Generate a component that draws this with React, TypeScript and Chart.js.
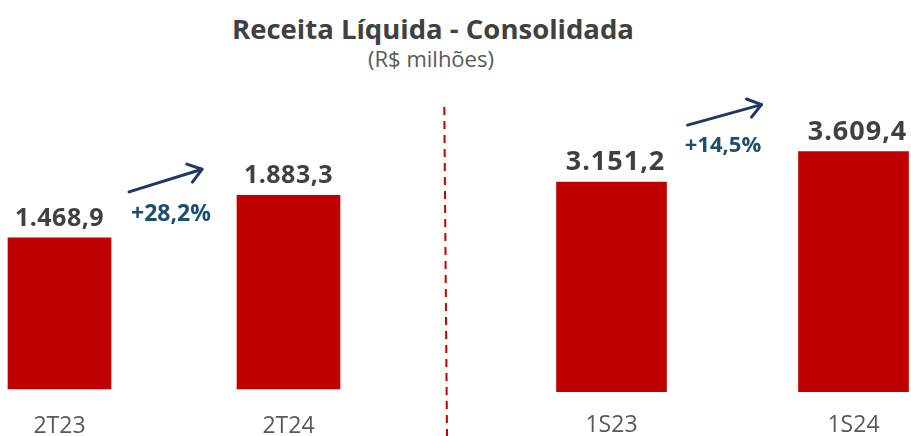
import React, { useEffect, useRef } from 'react';
import { Chart, registerables } from 'chart.js';

Chart.register(...registerables);

const TITLE = 'Receita Líquida - Consolidada';
const SUBTITLE = '(R$ milhões)';
const quarterLabels = ['2T23', '2T24'];
const quarterValues = [1468.9, 1883.3];
const semesterLabels = ['1S23', '1S24'];
const semesterValues = [3151.2, 3609.4];

const FONT = '"Open Sans", "Noto Sans", sans-serif';
const PANEL_H = 464;

const fmt = (v: number, d = 1) => {
  const [i, f] = v.toFixed(d).split('.');
  return i.replace(/\B(?=(\d{3})+(?!\d))/g, '.') + (f ? ',' + f : '');
};

const annotatePlugin = {
  id: 'annot',
  afterDatasetsDraw(chart: any, _args: any, opts: any) {
    const ctx = chart.ctx as CanvasRenderingContext2D;
    const meta = chart.getDatasetMeta(0);
    const values = chart.data.datasets[0].data as number[];
    const bars = meta.data.map((b: any) => b.getProps(['x', 'y', 'width', 'base'], true));
    ctx.save();
    // value labels
    ctx.font = `bold ${opts.valueSize}px ${FONT}`;
    (ctx as any).letterSpacing = opts.letterSpacing || '0px';
    ctx.fillStyle = '#404040';
    ctx.textAlign = 'center';
    ctx.textBaseline = 'alphabetic';
    bars.forEach((b: any, i: number) => ctx.fillText(fmt(values[i]), b.x + opts.valueDx, b.y - opts.valueGap));
    (ctx as any).letterSpacing = '0px';

    // growth annotation
    const b0 = bars[0];
    const b1 = bars[1];
    const r0 = b0.x + b0.width / 2;
    const l1 = b1.x - b1.width / 2;
    const growth = (values[1] / values[0] - 1) * 100;
    ctx.font = `bold ${opts.pctSize}px ${FONT}`;
    ctx.fillStyle = '#1C4E70';
    ctx.fillText('+' + fmt(growth) + '%', (r0 + l1) / 2 + opts.pctDx, b0.y + opts.pctDy);

    const a = opts.arrow;
    const sx = r0 + a.sx, sy = b0.y + a.sy;
    const ex = l1 + a.ex, ey = b1.y + a.ey;
    ctx.strokeStyle = '#1F3864';
    ctx.lineWidth = 3;
    ctx.lineCap = 'round';
    ctx.lineJoin = 'round';
    ctx.beginPath();
    ctx.moveTo(sx, sy);
    ctx.lineTo(ex, ey);
    ctx.stroke();
    const ang = Math.atan2(ey - sy, ex - sx);
    const hl = 16, ha = (36 * Math.PI) / 180;
    ctx.beginPath();
    ctx.moveTo(ex - hl * Math.cos(ang - ha), ey - hl * Math.sin(ang - ha));
    ctx.lineTo(ex, ey);
    ctx.lineTo(ex - hl * Math.cos(ang + ha), ey - hl * Math.sin(ang + ha));
    ctx.stroke();

    if (opts.divider) {
      const d = opts.divider;
      ctx.strokeStyle = '#C00000';
      ctx.lineWidth = 2;
      ctx.lineCap = 'butt';
      ctx.setLineDash([8, 6]);
      ctx.beginPath();
      ctx.moveTo(d.x0, d.y0);
      ctx.lineTo(d.x1, d.y1);
      ctx.stroke();
    }
    ctx.restore();
  },
};

type PanelProps = {
  labels: string[];
  values: number[];
  left: number;
  width: number;
  padTop: number;
  padLeft: number;
  padRight: number;
  padBottom: number;
  tickPad: number;
  max: number;
  barThickness: number;
  annot: any;
};

function BarPanel(p: PanelProps) {
  const ref = useRef<HTMLCanvasElement | null>(null);
  useEffect(() => {
    if (!ref.current) return;
    const chart = new Chart(ref.current, {
      type: 'bar',
      data: {
        labels: p.labels,
        datasets: [
          {
            data: p.values,
            backgroundColor: '#C00000',
            borderWidth: 0,
            barThickness: p.barThickness,
            clip: false as any,
          },
        ],
      },
      options: {
        responsive: true,
        maintainAspectRatio: false,
        animation: false,
        layout: { padding: { top: p.padTop, left: p.padLeft, right: p.padRight, bottom: p.padBottom } },
        plugins: {
          legend: { display: false },
          tooltip: { enabled: false },
          annot: p.annot,
        } as any,
        scales: {
          x: {
            offset: false,
            grid: { display: false, drawTicks: false },
            border: { display: false },
            ticks: {
              color: '#595959',
              font: { family: FONT, size: 23 },
              padding: p.tickPad,
              maxRotation: 0,
              autoSkip: false,
            },
          },
          y: { display: false, min: 0, max: p.max },
        },
      },
      plugins: [annotatePlugin],
    });
    return () => chart.destroy();
  }, []);
  return (
    <div style={{ position: 'absolute', left: p.left, top: 0, width: p.width, height: PANEL_H }}>
      <canvas ref={ref} />
    </div>
  );
}

export default function App() {
  return (
    <div style={{ position: 'absolute', left: 0, top: 0, width: 911, height: 436, background: '#fff', overflow: 'hidden' }}>
      <div
        style={{
          position: 'absolute', left: 0, top: 15, width: 866, textAlign: 'center',
          fontFamily: FONT, fontWeight: 700, fontSize: 27.5, lineHeight: '27.5px', color: '#404040',
        }}
      >
        {TITLE}
      </div>
      <div
        style={{
          position: 'absolute', left: 0, top: 47, width: 862, textAlign: 'center',
          fontFamily: FONT, fontWeight: 400, fontSize: 22, lineHeight: '22px', color: '#595959',
        }}
      >
        {SUBTITLE}
      </div>
      <BarPanel
        labels={quarterLabels}
        values={quarterValues}
        left={0}
        width={436}
        padTop={101}
        padLeft={59.5}
        padRight={436 - 288.5}
        padBottom={0.6}
        tickPad={23.4}
        max={2800}
        barThickness={103}
        annot={{
          valueSize: 25, valueDx: 0, valueGap: 12, letterSpacing: '0.5px', pctSize: 23, pctDx: -3, pctDy: -17,
          arrow: { sx: 18, sy: -46, ex: -35, ey: -26 },
        }}
      />
      <BarPanel
        labels={semesterLabels}
        values={semesterValues}
        left={436}
        width={475}
        padTop={99}
        padLeft={175.5}
        padRight={57.5}
        padBottom={4.7}
        tickPad={20}
        max={4400}
        barThickness={110}
        annot={{
          valueSize: 27, valueDx: 4, valueGap: 12, letterSpacing: '1px', pctSize: 22, pctDx: -9.5, pctDy: -30,
          arrow: { sx: 21, sy: -57, ex: -37, ey: -47 },
          divider: { x0: 8.3, y0: 107, x1: 11, y1: 436 },
        }}
      />
    </div>
  );
}
